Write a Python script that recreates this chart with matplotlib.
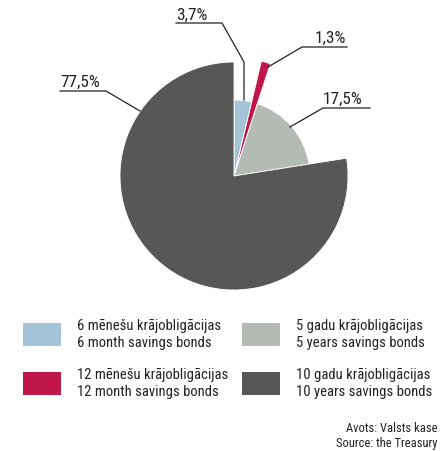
import numpy as np
import matplotlib.pyplot as plt
from matplotlib.patches import Wedge, Rectangle
from matplotlib import font_manager

names = ["6 mēnešu krājobligācijas\n6 month savings bonds",
         "12 mēnešu krājobligācijas\n12 month savings bonds",
         "5 gadu krājobligācijas\n5 years savings bonds",
         "10 gadu krājobligācijas\n10 years savings bonds"]
shares = [3.7, 1.3, 17.5, 77.5]
share_labels = ["3,7%", "1,3%", "17,5%", "77,5%"]
colors = ["#a3c4d8", "#c0174a", "#b4bbb4", "#575756"]

# look for a condensed face
cands = [f for f in font_manager.fontManager.ttflist
         if ("Condensed" in f.fname or "Narrow" in f.fname) and "Bold" not in f.fname
         and "Oblique" not in f.fname and "Italic" not in f.fname]
cands.sort(key=lambda f: (0 if "Liberation" in f.fname else 1 if "Roboto" in f.fname else 2, len(f.fname)))
if cands:
    fp = font_manager.FontProperties(fname=cands[0].fname)
    fs = 10.5
else:
    fp = font_manager.FontProperties(family="DejaVu Sans")
    fs = 8.5
txt = "#222222"

H = 451
fig = plt.figure(figsize=(4.4, 4.51), dpi=100)
ax = fig.add_axes([0, 0, 1, 1])
ax.set_xlim(0, 440)
ax.set_ylim(0, H)
ax.axis("off")

cx, cy = 234, H - 176
radii = [76, 114, 76, 114]
explode = [0, 4, 0, 0]

start = 90.0
for v, c, r, ex in zip(shares, colors, radii, explode):
    span = v / 100 * 360
    t1, t2 = start - span, start
    mid = np.deg2rad((t1 + t2) / 2)
    ox, oy = ex * np.cos(mid), ex * np.sin(mid)
    ax.add_patch(Wedge((cx + ox, cy + oy), r, t1, t2, facecolor=c, edgecolor="white", lw=0.6))
    start = t1

# labels with leader lines (image coords): line points, text anchor, alignment
leaders = [
    ([(176, 23), (222, 23), (244, 62), (244, 100)], (176, 20), "left"),
    ([(347, 47), (302, 47), (268, 67)], (346, 43), "right"),
    ([(370, 108), (323, 108), (290, 127)], (362, 104), "right"),
    ([(60, 91), (106, 91), (140, 111)], (60, 87), "left"),
]
for lab, (pts, tp, ha) in zip(share_labels, leaders):
    xs = [p[0] for p in pts]
    ys = [H - p[1] for p in pts]
    ax.plot(xs, ys, color="#222222", lw=0.9)
    ax.text(tp[0], H - tp[1], lab, fontproperties=fp, fontsize=fs * 1.18, color=txt,
            ha=ha, va="baseline")

# legend
legpos = [(23, 323), (23, 372), (242, 323), (242, 372)]
for (x, y), c, n in zip(legpos, colors, names):
    ax.add_patch(Rectangle((x, H - y - 23), 38, 23, facecolor=c, edgecolor="none"))
    ax.text(x + 54, H - y + 4, n, fontproperties=fp, fontsize=fs, color=txt,
            ha="left", va="top", linespacing=1.25)

ax.text(437, H - 432, "Avots: Valsts kase", fontproperties=fp,
        fontsize=fs * 0.86, color=txt, ha="right", va="baseline")
ax.text(437, H - 447, "Source: the Treasury", fontproperties=fp,
        fontsize=fs * 0.86, color=txt, ha="right", va="baseline")

fig.savefig("out.png", dpi=100)
